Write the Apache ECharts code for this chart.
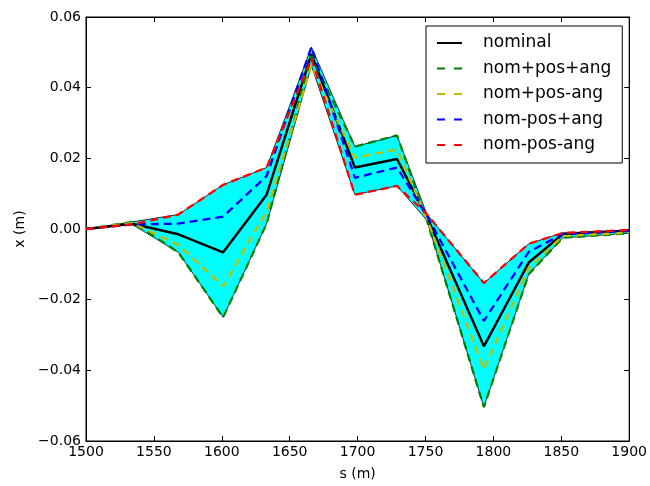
<!DOCTYPE html>
<html>
<head>
<meta charset="utf-8">
<script src="https://cdn.jsdelivr.net/npm/echarts@6/dist/echarts.min.js"></script>
<style>
  html, body { margin: 0; padding: 0; background: #fff; }
  #chart { width: 650px; height: 486px; }
</style>
</head>
<body>
<div id="chart"></div>
<script>
// s positions (m)
var sPos = [1500, 1534, 1568, 1601, 1633, 1666, 1698, 1729, 1751, 1793, 1826, 1851, 1900];

// x offsets (m) per trajectory
var nominal    = [0, 0.0015, -0.0015, -0.0066, 0.0097, 0.0495, 0.0174, 0.0198, 0.0035, -0.0332, -0.0095, -0.0015, -0.0005];
var nomPosAng  = [0, 0.0020, -0.0066, -0.0250, 0.0015, 0.0490, 0.0233, 0.0265, 0.0025, -0.0504, -0.0128, -0.0025, -0.0012];
var nomPosNeg  = [0, 0.0017, -0.0045, -0.0162, 0.0050, 0.0462, 0.0202, 0.0225, 0.0030, -0.0397, -0.0110, -0.0020, -0.0010];
var nomNegAng  = [0, 0.0013, 0.0015, 0.0035, 0.0150, 0.0515, 0.0145, 0.0174, 0.0038, -0.0260, -0.0065, -0.0014, -0.0005];
var nomNegNeg  = [0, 0.0013, 0.0041, 0.0125, 0.0174, 0.0482, 0.0097, 0.0122, 0.0042, -0.0153, -0.0042, -0.0011, -0.0003];

var chart = echarts.init(document.getElementById('chart'));

function pairs(ys) {
    return sPos.map(function (s, i) { return [s, ys[i]]; });
}

// envelope for the cyan band
var all = [nominal, nomPosAng, nomPosNeg, nomNegAng, nomNegNeg];
var lower = sPos.map(function (s, i) {
    return Math.min.apply(null, all.map(function (a) { return a[i]; }));
});
var upper = sPos.map(function (s, i) {
    return Math.max.apply(null, all.map(function (a) { return a[i]; }));
});
var bandRows = sPos.map(function (s, i) { return [s, lower[i], upper[i]]; });

var font = 'DejaVu Sans';
var fmtY = function (v) {
    var t = Math.abs(v).toFixed(2);
    return (v < -1e-9 ? '\u2212' : '') + t;
};
var solidIcon = 'path://M0,0h25v2h-25z';
var dashIcon = 'path://M0,0h8v2h-8zM17,0h8v2h-8z';

function dashLine(name, ys, color) {
    return {
        name: name,
        type: 'line',
        data: pairs(ys),
        showSymbol: false,
        symbol: 'none',
        z: 5,
        lineStyle: { color: color, width: 2.3, type: [8, 5] },
        itemStyle: { color: color }
    };
}

var option = {
    animation: false,
    backgroundColor: '#fff',
    grid: {
        left: 86, right: 19, top: 17, bottom: 44,
        show: true, borderColor: '#000', borderWidth: 1
    },
    legend: {
        data: [
            { name: 'nominal', icon: solidIcon },
            { name: 'nom+pos+ang', icon: dashIcon },
            { name: 'nom+pos-ang', icon: dashIcon },
            { name: 'nom-pos+ang', icon: dashIcon },
            { name: 'nom-pos-ang', icon: dashIcon }
        ],
        orient: 'vertical',
        left: 426, top: 26,
        padding: [7, 11, 8, 11],
        itemWidth: 25, itemHeight: 2.5, itemGap: 5.5,
        borderColor: '#000', borderWidth: 1, borderRadius: 0,
        backgroundColor: '#fff',
        textStyle: { fontFamily: font, fontSize: 17, color: '#000', padding: [0, 0, 0, 16], lineHeight: 20 }
    },
    xAxis: [{
        type: 'value', min: 1500, max: 1900, interval: 50,
        name: 's (m)', nameLocation: 'middle', nameGap: 26,
        nameTextStyle: { fontFamily: font, fontSize: 14, color: '#000' },
        axisLine: { onZero: false, lineStyle: { color: '#000' } },
        axisTick: { inside: true, length: 5, lineStyle: { color: '#000' } },
        axisLabel: { fontFamily: font, fontSize: 14, color: '#000', margin: 4, formatter: function (v) { return String(v); } },
        splitLine: { show: false }
    }, {
        type: 'value', min: 1500, max: 1900, interval: 50, position: 'top',
        axisLine: { onZero: false, lineStyle: { color: '#000' } },
        axisTick: { inside: true, length: 5, lineStyle: { color: '#000' } },
        axisLabel: { show: false },
        splitLine: { show: false }
    }],
    yAxis: [{
        type: 'value', min: -0.06, max: 0.06, interval: 0.02,
        name: 'x (m)', nameLocation: 'middle', nameGap: 58, nameRotate: 90,
        nameTextStyle: { fontFamily: font, fontSize: 14, color: '#000' },
        axisLine: { show: true, onZero: false, lineStyle: { color: '#000' } },
        axisTick: { show: true, inside: true, length: 5, lineStyle: { color: '#000' } },
        axisLabel: { fontFamily: font, fontSize: 14, color: '#000', margin: 5, formatter: fmtY },
        splitLine: { show: false }
    }, {
        type: 'value', min: -0.06, max: 0.06, interval: 0.02, position: 'right',
        axisLine: { show: true, onZero: false, lineStyle: { color: '#000' } },
        axisTick: { show: true, inside: true, length: 5, lineStyle: { color: '#000' } },
        axisLabel: { show: false },
        splitLine: { show: false }
    }],
    series: [
        {
            name: 'band', type: 'custom', z: 1, silent: true,
            data: bandRows,
            encode: { x: 0, y: [1, 2] },
            renderItem: function (params, api) {
                if (params.dataIndex !== 0) return;
                var top = [], bot = [];
                for (var i = 0; i < bandRows.length; i++) {
                    top.push(api.coord([bandRows[i][0], bandRows[i][2]]));
                    bot.push(api.coord([bandRows[i][0], bandRows[i][1]]));
                }
                return {
                    type: 'polygon',
                    shape: { points: top.concat(bot.reverse()) },
                    style: { fill: '#00ffff', stroke: '#000', lineWidth: 0.8 }
                };
            }
        },
        {
            name: 'nominal', type: 'line', data: pairs(nominal),
            showSymbol: false, symbol: 'none', z: 4,
            lineStyle: { color: '#000', width: 2.5 },
            itemStyle: { color: '#000' }
        },
        dashLine('nom+pos+ang', nomPosAng, '#008000'),
        dashLine('nom+pos-ang', nomPosNeg, '#bfbf00'),
        dashLine('nom-pos+ang', nomNegAng, '#0000ff'),
        dashLine('nom-pos-ang', nomNegNeg, '#ff0000')
    ]
};

chart.setOption(option);
</script>
</body>
</html>
